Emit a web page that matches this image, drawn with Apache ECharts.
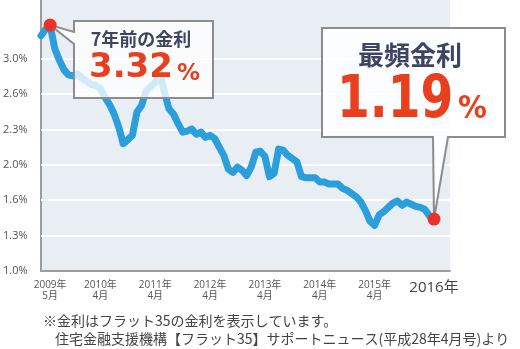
<!DOCTYPE html>
<html><head><meta charset="utf-8">
<script src="https://cdn.jsdelivr.net/npm/echarts@6/dist/echarts.min.js"></script>
<style>html,body{margin:0;padding:0;background:#fff}#c{width:520px;height:349px}</style>
</head><body><div id="c"></div>
<script>
// Monthly Flat35 rate (%), index 0 = 2009-03 ... index 86 = 2016-05
const rates = [3.22,3.28,3.32,3.10,2.99,2.90,2.85,2.84,2.86,2.82,
  2.79,2.76,2.75,2.72,2.64,2.57,2.48,2.36,2.20,2.24,
  2.28,2.50,2.56,2.70,2.74,2.78,2.88,2.69,2.53,2.48,
  2.39,2.31,2.32,2.34,2.29,2.31,2.26,2.28,2.25,2.17,
  2.09,1.96,1.93,1.98,1.95,1.90,1.98,2.12,2.13,2.08,
  1.89,1.92,2.15,2.14,2.09,2.06,2.03,1.89,1.88,1.88,
  1.88,1.84,1.84,1.82,1.82,1.82,1.78,1.76,1.73,1.70,
  1.65,1.57,1.47,1.43,1.53,1.56,1.60,1.64,1.66,1.62,
  1.65,1.63,1.61,1.60,1.58,1.52,1.49];
const yTickValues = [1, 4/3, 5/3, 2, 7/3, 8/3, 3];
const yTickLabels = ['1.0%','1.3%','1.6%','2.0%','2.3%','2.6%','3.0%'];
const xLabelIndex = [2, 13, 25, 37, 49, 61, 73, 86];
const xLabelYear = ['2009年','2010年','2011年','2012年','2013年','2014年','2015年','2016年'];
const xLabelMonth = ['5月','4月','4月','4月','4月','4月','4月',''];
const highlightIndex = [2, 86];
const callout1 = {title: '7年前の金利', value: '3.32', unit: '%'};
const callout2 = {title: '最頻金利', value: '1.19', unit: '%'};
const notes = ['※金利はフラット35の金利を表示しています。', '住宅金融支援機構【フラット35】サポートニュース(平成28年4月号)より'];

const chart = echarts.init(document.getElementById('c'), null, {renderer: 'canvas'});
const lineData = rates.map((v, i) => [i, v]);
const dotData = highlightIndex.map(i => [i, rates[i]]);
const labelFont = "'Open Sans', 'Noto Sans CJK JP', sans-serif";

chart.setOption({
  animation: false,
  grid: {left: 41, right: 70, top: 0, bottom: 78, show: true, backgroundColor: '#e9eef5', borderWidth: 0},
  xAxis: {
    type: 'value', min: 0, max: 89.5, interval: 1,
    axisLine: {show: true, onZero: false, lineStyle: {color: '#9c9c9c', width: 2}},
    axisTick: {show: false}, splitLine: {show: false},
    axisLabel: {
      showMaxLabel: false, margin: 9, fontFamily: labelFont,
      formatter: function (v) {
        const k = xLabelIndex.indexOf(Math.round(v));
        if (k < 0 || Math.abs(v - Math.round(v)) > 1e-6) return '';
        if (!xLabelMonth[k]) return '{b|' + xLabelYear[k] + '}';
        return '{a|' + xLabelYear[k] + '}\n{a|' + xLabelMonth[k] + '}';
      },
      rich: {
        a: {fontSize: 10, lineHeight: 11, color: '#555', fontFamily: labelFont},
        b: {fontSize: 15, lineHeight: 16, color: '#444', fontFamily: labelFont}
      }
    }
  },
  yAxis: {
    type: 'value', min: 1, max: 1 + 271 / 106, interval: 1 / 3,
    axisLine: {show: true, onZero: false, lineStyle: {color: '#9c9c9c', width: 2}},
    axisTick: {show: false}, splitLine: {show: false},
    axisLabel: {
      showMaxLabel: false, align: 'left', margin: 38, fontSize: 11, color: '#555', fontFamily: labelFont,
      formatter: function (v) {
        for (let k = 0; k < yTickValues.length; k++) {
          if (Math.abs(v - yTickValues[k]) < 1e-6) return yTickLabels[k];
        }
        return '';
      }
    }
  },
  series: [
    {
      type: 'line', data: lineData, symbol: 'none', z: 3,
      lineStyle: {color: '#2a9fdc', width: 7, join: 'round', cap: 'round'},
      markLine: {
        silent: true, symbol: 'none', z: 1, label: {show: false},
        lineStyle: {color: '#ffffff', width: 2, type: 'solid'},
        data: yTickValues.slice(1).map(v => ({yAxis: v}))
      }
    },
    {
      type: 'scatter', data: dotData, symbol: 'circle', symbolSize: 13, z: 200,
      itemStyle: {color: '#e8332c', opacity: 1}
    }
  ]
});

const tip1 = chart.convertToPixel({gridIndex: 0}, dotData[0]);
const tip2 = chart.convertToPixel({gridIndex: 0}, dotData[1]);
const jp = "'Noto Sans CJK JP', sans-serif";
const num = "'DejaVu Sans', sans-serif";

chart.setOption({
  graphic: [
    {type: 'polygon', z: 100, shape: {points: [[74,21],[213,21],[213,98],[74,98],[74,44],[tip1[0],tip1[1]],[74,32]]},
      style: {fill: 'rgba(255,255,255,0.78)', stroke: '#8c8c8c', lineWidth: 2}},
    {type: 'text', z: 101, x: 141, y: 39, style: {text: callout1.title, fontSize: 18, fontWeight: 'bold', fontFamily: jp, fill: '#3f4561', align: 'center', verticalAlign: 'middle'}},
    {type: 'text', z: 101, x: 89, y: 68, style: {text: callout1.value, fontSize: 34, fontWeight: 'bold', fontFamily: num, fill: '#e8401f', align: 'left', verticalAlign: 'middle'}},
    {type: 'text', z: 101, x: 177, y: 74, style: {text: callout1.unit, fontSize: 23, fontWeight: 'bold', fontFamily: num, fill: '#e8401f', align: 'left', verticalAlign: 'middle'}},
    {type: 'polygon', z: 100, shape: {points: [[322,28],[505,28],[505,137],[448,137],[tip2[0],tip2[1]],[433,137],[322,137]]},
      style: {fill: 'rgba(255,255,255,0.85)', stroke: '#8c8c8c', lineWidth: 2}},
    {type: 'text', z: 101, x: 410, y: 55, style: {text: callout2.title, fontSize: 26, fontWeight: 'bold', fontFamily: jp, fill: '#3f4561', align: 'center', verticalAlign: 'middle'}},
    {type: 'text', z: 101, x: 337, y: 102, scaleX: 0.8, style: {text: callout2.value, fontSize: 59, fontWeight: 'bold', fontFamily: num, fill: '#e8401f', align: 'left', verticalAlign: 'middle'}},
    {type: 'text', z: 101, x: 458, y: 110, scaleX: 0.9, style: {text: callout2.unit, fontSize: 32, fontWeight: 'bold', fontFamily: num, fill: '#e8401f', align: 'left', verticalAlign: 'middle'}},
    {type: 'text', z: 101, x: 43, y: 321, style: {text: notes[0], fontSize: 14, fontFamily: jp, fill: '#444', align: 'left', verticalAlign: 'middle'}},
    {type: 'text', z: 101, x: 55, y: 339, style: {text: notes[1], fontSize: 14, fontFamily: jp, fill: '#444', align: 'left', verticalAlign: 'middle'}}
  ]
});
</script></body></html>
